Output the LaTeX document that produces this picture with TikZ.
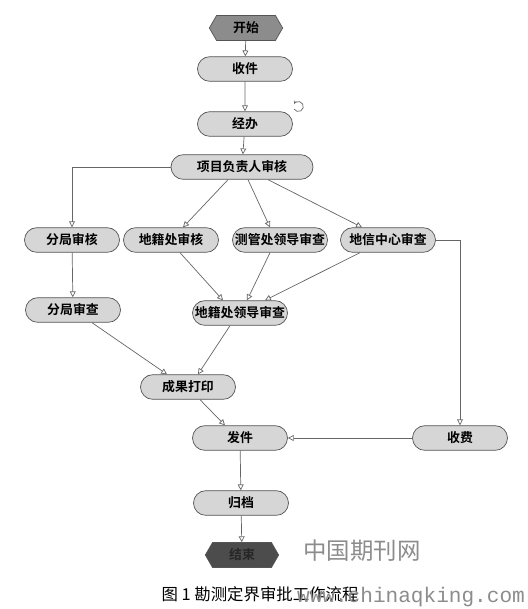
\documentclass[tikz,border=0pt]{standalone}
\usepackage{fontspec}
\newfontfamily\cjk[BoldFont={Noto Sans CJK SC Bold}]{Noto Sans CJK SC}
\newfontfamily\wmono{Liberation Mono}
\usetikzlibrary{arrows.meta,shapes.misc,shapes.symbols}

\definecolor{boxfill}{HTML}{D6D6D6}
\definecolor{boxline}{HTML}{555555}
\definecolor{startfill}{HTML}{8C8C8C}
\definecolor{endfill}{HTML}{4C4C4C}

\tikzset{
  flowbox/.style={rounded rectangle, draw=boxline, fill=boxfill, line width=0.6pt,
    minimum width=2.85cm, minimum height=0.74cm, inner sep=0pt,
    font=\cjk\bfseries\fontsize{11}{13}\selectfont},
  termbox/.style={signal, signal to=east and west, signal pointer angle=120,
    draw=boxline, line width=0.6pt, minimum width=2.2cm, minimum height=0.75cm,
    inner sep=0pt, font=\cjk\bfseries\fontsize{11}{13}\selectfont},
  flow/.style={draw=black!60, line width=0.6pt,
    -{Triangle[open,length=5pt,width=5pt]}},
}

\begin{document}
\begin{tikzpicture}[x=0.03cm,y=-0.03cm]
\useasboundingbox (0,0) rectangle (528,609);
% nodes
\node[termbox, fill=startfill] (start) at (246,28) {开始};
\node[flowbox] (recv) at (245,69) {收件};
\node[flowbox] (handle) at (245,124) {经办};
\node[flowbox, minimum width=4.26cm] (lead) at (242,167) {项目负责人审核};
\node[flowbox] (brA) at (72,240) {分局审核};
\node[flowbox] (cadA) at (171,240) {地籍处审核};
\node[flowbox] (survey) at (280,240) {测管处领导审查};
\node[flowbox] (info) at (388,240) {地信中心审查};
\node[flowbox] (brB) at (73,310) {分局审查};
\node[flowbox] (cadB) at (240,313) {地籍处领导审查};
\node[flowbox] (print) at (188,387) {成果打印};
\node[flowbox] (send) at (240,438) {发件};
\node[flowbox] (fee) at (460,438) {收费};
\node[flowbox] (archive) at (241,503) {归档};
\node[termbox, fill=endfill, text=black!85] (finish) at (242,555) {结束};
% loop mark
\draw[black!60, line width=0.6pt, -{Stealth[length=3pt]}] (294,109) arc (150:-150:5);
% connectors
\draw[flow] (start) -- (recv);
\draw[flow] (recv) -- (handle);
\draw[flow] (handle) -- (lead);
\draw[flow] (lead.west) -| (brA.north);
\draw[flow] ([xshift=-0.42cm]lead.south) -- ([xshift=0.36cm]cadA.north);
\draw[flow] ([xshift=0.18cm]lead.south) -- ([xshift=-0.3cm]survey.north);
\draw[flow] ([xshift=0.78cm]lead.south) -- ([xshift=-0.78cm]info.north);
\draw[flow] (info.east) -| (fee.north);
\draw[flow] (brA) -- (brB);
\draw[flow] ([xshift=0.27cm]cadA.south) -- ([xshift=-0.51cm]cadB.north);
\draw[flow] ([xshift=-0.3cm]survey.south) -- ([xshift=0.21cm]cadB.north);
\draw[flow] ([xshift=-0.84cm]info.south) -- ([xshift=0.75cm]cadB.north);
\draw[flow] ([xshift=0.57cm]brB.south) -- ([xshift=-0.63cm]print.north);
\draw[flow] ([xshift=-0.3cm]cadB.south) -- ([xshift=0.3cm]print.north);
\draw[flow] ([xshift=0.36cm]print.south) -- ([xshift=-0.45cm]send.north);
\draw[flow] (fee.west) -- (send.east);
\draw[flow] (send) -- (archive);
\draw[flow] (archive) -- (finish);
% caption and marks
\node[font=\cjk\fontsize{20}{22}\selectfont, text=black!45] (wmark) at (362,551) {中国期刊网};
\node[font=\cjk\fontsize{14}{16}\selectfont] (caption) at (260,594) {图 1\ 勘测定界审批工作流程};
\node[font=\wmono\fontsize{18}{20}\selectfont, text=black!45, anchor=base] (wurl) at (411,602) {www.chinaqking.com};
\end{tikzpicture}
\end{document}
